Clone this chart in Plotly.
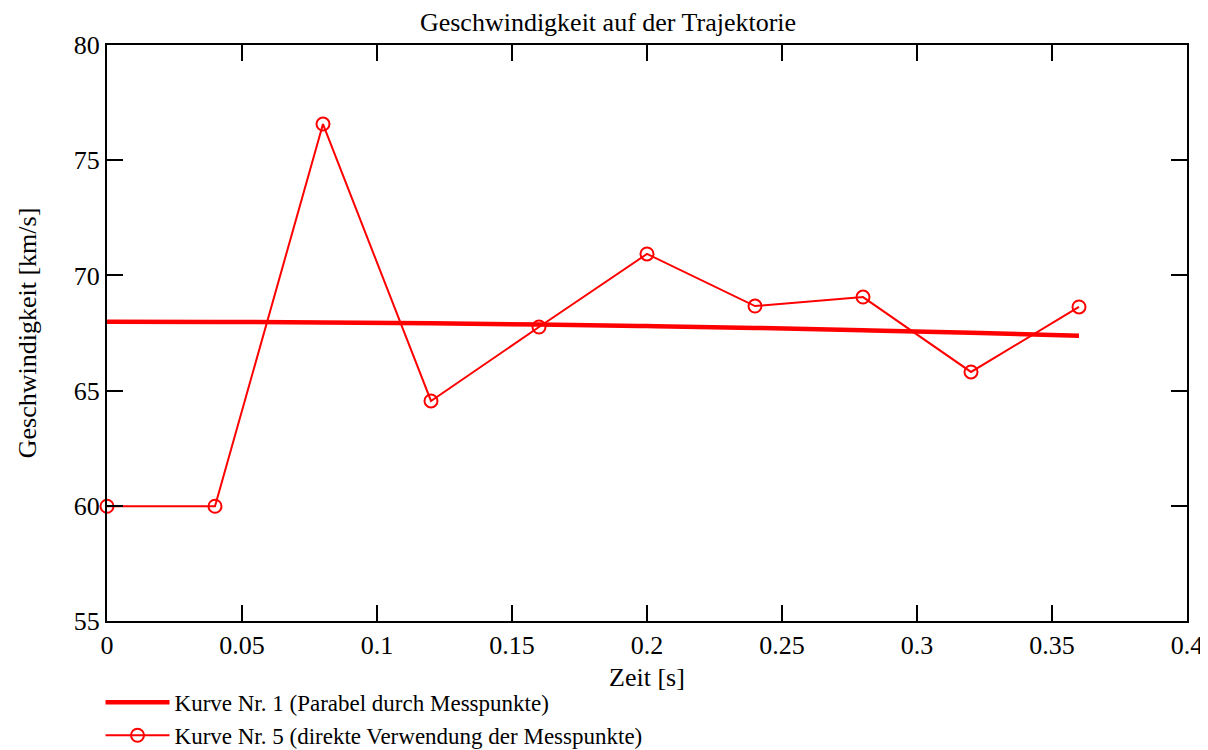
import plotly.graph_objects as go

# Measured points (Kurve Nr. 5)
t_mess = [0.0, 0.04, 0.08, 0.12, 0.16, 0.20, 0.24, 0.28, 0.32, 0.36]
v_mess = [59.98, 59.98, 76.57, 64.55, 67.76, 70.93, 68.67, 69.06, 65.81, 68.63]

t_par = [0.0, 0.04, 0.08, 0.12, 0.16, 0.20, 0.24, 0.28, 0.32, 0.36]
v_par = [67.99, 67.98, 67.96, 67.92, 67.87, 67.80, 67.72, 67.62, 67.51, 67.38]

x_ticks = [0, 0.05, 0.1, 0.15, 0.2, 0.25, 0.3, 0.35, 0.4]
y_ticks = [55, 60, 65, 70, 75, 80]

font_family = "Liberation Serif"
fs = 26

fig = go.Figure()
fig.add_trace(go.Scatter(
    x=t_par, y=v_par, mode="lines", line=dict(color="#ff0000", width=4.5, shape="spline"),
    name="Kurve Nr. 1 (Parabel durch Messpunkte)"))
fig.add_trace(go.Scatter(
    x=t_mess, y=v_mess, mode="lines+markers",
    line=dict(color="#ff0000", width=2),
    marker=dict(symbol="circle-open", size=13, color="#ff0000", line=dict(width=2, color="#ff0000")),
    name="Kurve Nr. 5 (direkte Verwendung der Messpunkte)", cliponaxis=False))

axis_common = dict(
    showline=True, linecolor="black", linewidth=2, mirror="ticks",
    ticks="inside", ticklen=16, tickwidth=2, tickcolor="black",
    showgrid=False, zeroline=False, automargin=False,
    tickfont=dict(family=font_family, size=fs, color="black"),
)

# the page body has an 8px margin; size the figure so it fits the 1208x750 window
fig.update_layout(
    width=1200, height=742,
    paper_bgcolor="white", plot_bgcolor="white",
    margin=dict(l=99, r=21, t=37, b=129, autoexpand=False),
    font=dict(family=font_family, size=fs, color="black"),
    title=dict(text="Geschwindigkeit auf der Trajektorie", x=0.5, xanchor="center",
               y=1 - 14 / 742, yanchor="middle", font=dict(family=font_family, size=fs)),
    xaxis=dict(range=[0, 0.4], tickvals=x_ticks, ticktext=[str(v) for v in x_ticks],
               title=dict(text="Zeit [s]", standoff=9, font=dict(family=font_family, size=fs)),
               **axis_common),
    yaxis=dict(range=[55, 80], tickvals=y_ticks,
               title=dict(text="Geschwindigkeit [km/s]", standoff=30, font=dict(family=font_family, size=fs)),
               **axis_common),
    legend=dict(x=-0.006, xanchor="left", y=-0.104, yanchor="top", orientation="v",
                font=dict(family=font_family, size=23), bgcolor="rgba(0,0,0,0)",
                tracegroupgap=0, itemwidth=64),
    showlegend=True,
)

fig.write_html("out.html")
